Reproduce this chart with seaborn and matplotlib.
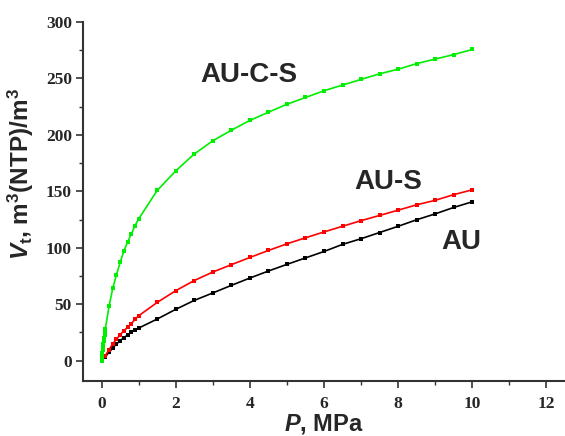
import matplotlib
matplotlib.use("Agg")
import matplotlib.pyplot as plt
from matplotlib.ticker import MultipleLocator
import seaborn as sns
import pandas as pd

sns.set_theme(style="ticks")
plt.rcParams["font.family"] = ["Liberation Sans", "DejaVu Sans"]
plt.rcParams["mathtext.fontset"] = "custom"
plt.rcParams["mathtext.rm"] = "Liberation Sans:bold"
plt.rcParams["mathtext.it"] = "Liberation Sans:italic:bold"
plt.rcParams["mathtext.bf"] = "Liberation Sans:bold"

# Data
p_acs = [0.0, 0.01, 0.02, 0.03, 0.04, 0.05, 0.06, 0.07, 0.08, 0.09, 0.1,
         0.2, 0.3, 0.4, 0.5, 0.6, 0.7, 0.8, 0.9, 1.0, 1.5, 2.0, 2.5, 3.0, 3.5,
         4.0, 4.5, 5.0, 5.5, 6.0, 6.5, 7.0, 7.5, 8.0, 8.5, 9.0, 9.5, 10.0]
v_acs = [0, 3.5, 6.5, 9.5, 12, 15, 17.5, 20, 22.5, 25, 28,
         48, 64, 76, 87, 97, 105, 112, 119.5, 125.6, 150.7, 168, 183, 194.7, 204,
         212.7, 220, 227, 233, 239, 244, 249, 254, 258, 263, 267, 271, 275.5]

p_as = [0.0, 0.1, 0.2, 0.3, 0.4, 0.5, 0.6, 0.7, 0.8, 0.9, 1.0, 1.5, 2.0, 2.5,
        3.0, 3.5, 4.0, 4.5, 5.0, 5.5, 6.0, 6.5, 7.0, 7.5, 8.0, 8.5, 9.0, 9.5, 10.0]
v_as = [0, 4.5, 9.7, 15, 19, 23, 26.5, 29.5, 32.7, 36.6, 39.8, 51.6, 62, 71,
        78.5, 85, 91.4, 97.6, 103.5, 108.8, 114, 119, 124, 128.6, 133.3, 138, 142, 147, 151.3]

p_au = [0.0, 0.1, 0.2, 0.3, 0.4, 0.5, 0.6, 0.7, 0.8, 0.9, 1.0, 1.5, 2.0, 2.5,
        3.0, 3.5, 4.0, 4.5, 5.0, 5.5, 6.0, 6.5, 7.0, 7.5, 8.0, 8.5, 9.0, 9.5, 10.0]
v_au = [0, 3.5, 7.4, 11.2, 14.7, 17.7, 20.4, 22.7, 25, 27.2, 28.9, 36.9, 45.5, 53.4,
        60, 66.7, 73.2, 79.4, 85.3, 91, 96.7, 103, 108, 113.5, 119, 124.8, 130, 135.7, 140.7]

series = ["AU-C-S", "AU-S", "AU"]
colors = {"AU-C-S": "#00ee00", "AU-S": "#ff0000", "AU": "#000000"}

df = pd.concat([
    pd.DataFrame({"P": p_acs, "V": v_acs, "s": "AU-C-S"}),
    pd.DataFrame({"P": p_as, "V": v_as, "s": "AU-S"}),
    pd.DataFrame({"P": p_au, "V": v_au, "s": "AU"}),
])

fig = plt.figure(figsize=(5.65, 4.36), dpi=100)
ax = fig.add_axes([0.147, 0.126, 0.853, 0.824])

for s in ["AU", "AU-S", "AU-C-S"]:
    sub = df[df["s"] == s]
    sns.lineplot(data=sub, x="P", y="V", ax=ax, color=colors[s], marker="s",
                 markersize=3.5, markeredgewidth=0, linewidth=1.2,
                 estimator=None, sort=False, legend=False)

ax.set_xlim(-0.5, 12.5)
ax.set_ylim(-18, 300)
ax.xaxis.set_major_locator(MultipleLocator(2))
ax.xaxis.set_minor_locator(MultipleLocator(1))
ax.yaxis.set_major_locator(MultipleLocator(50))
ax.yaxis.set_minor_locator(MultipleLocator(25))
ax.tick_params(which="major", direction="out", length=5, width=1.2, color="#333333")
ax.tick_params(which="minor", direction="out", length=3, width=1.0, color="#333333")
for lab in ax.get_xticklabels() + ax.get_yticklabels():
    lab.set_family(["Liberation Serif", "DejaVu Serif"])
    lab.set_fontweight("bold")
    lab.set_fontsize(12.5)
ax.tick_params(axis="x", pad=6)
ax.tick_params(axis="y", pad=3)

for side in ["top", "right"]:
    ax.spines[side].set_visible(False)
for side in ["left", "bottom"]:
    ax.spines[side].set_linewidth(1.5)
    ax.spines[side].set_color("#333333")

ax.set_xlabel("$\\mathit{P}$, MPa", fontsize=17, fontweight="bold", labelpad=0)
ax.set_ylabel("$\\mathit{V}_\\mathrm{t}$, m$^3$(NTP)/m$^3$", fontsize=17.5, fontweight="bold")
ax.yaxis.set_label_coords(-0.097, 0.575)

ax.text(3.98, 253, "AU-C-S", fontsize=20, fontweight="bold", ha="center", va="center")
ax.text(7.72, 158, "AU-S", fontsize=20, fontweight="bold", ha="center", va="center")
ax.text(9.69, 105, "AU", fontsize=20, fontweight="bold", ha="center", va="center")

fig.savefig("out.png", dpi=100)
